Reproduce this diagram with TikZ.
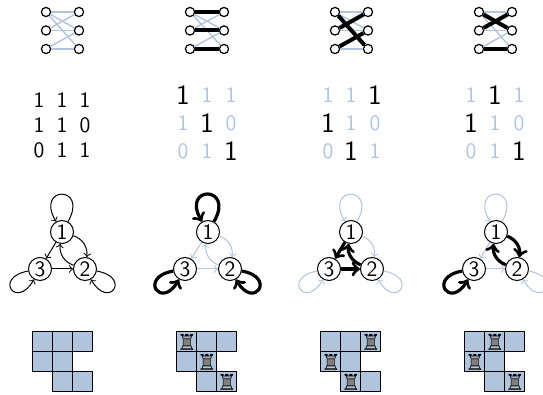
\documentclass[tikz,border=0pt]{standalone}
\usepackage{fontspec}
\usepackage{tikz}
\newfontfamily\chessfont{DejaVu Sans}
\definecolor{pale}{HTML}{B0C4DE}
\newcommand{\rook}{{\chessfont\fontsize{11}{11}\selectfont\rlap{\color{gray}♜}♖}}
\tikzset{
  vtx/.style={draw,circle,fill=white,inner sep=0pt,minimum size=4.6pt,line width=0.6pt},
  pairoff/.style={pale,line width=0.7pt},
  pairon/.style={black,line width=2pt},
  digit/.style={font=\sffamily\fontsize{11}{11}\selectfont},
  digitoff/.style={font=\sffamily\fontsize{11}{11}\selectfont,pale},
  digiton/.style={font=\sffamily\fontsize{14}{14}\selectfont},
  gnode/.style={draw,circle,inner sep=0pt,minimum size=11.5pt,line width=0.5pt,font=\sffamily\fontsize{11}{11}\selectfont},
  arcoff/.style={->,pale,line width=0.5pt},
  arcthin/.style={->,black,line width=0.5pt},
  arcon/.style={->,black,line width=1.6pt},
  cell/.style={draw,fill=pale,minimum size=10pt,inner sep=0pt,line width=0.5pt},
  rookcell/.style={cell,label={[inner sep=0pt]center:\rook}}
}
\begin{document}
\begin{tikzpicture}[x=0.5pt,y=-0.5pt]
\useasboundingbox (0,0) rectangle (543,395);
% bipartite graphs
\node [vtx] (la1) at(46,12){};
\node [vtx] (la2) at(46,30.5){};
\node [vtx] (la3) at(46,49){};
\node [vtx] (ra1) at(79,12){};
\node [vtx] (ra2) at(79,30.5){};
\node [vtx] (ra3) at(79,49){};
\draw[pairoff](la1) -- (ra1);
\draw[pairoff](la1) -- (ra2);
\draw[pairoff](la1) -- (ra3);
\draw[pairoff](la2) -- (ra1);
\draw[pairoff](la2) -- (ra2);
\draw[pairoff](la3) -- (ra2);
\draw[pairoff](la3) -- (ra3);

\node [vtx] (lb1) at(190,12){};
\node [vtx] (lb2) at(190,30.5){};
\node [vtx] (lb3) at(190,49){};
\node [vtx] (rb1) at(224,12){};
\node [vtx] (rb2) at(224,30.5){};
\node [vtx] (rb3) at(224,49){};
\draw[pairoff](lb1) -- (rb2);
\draw[pairoff](lb1) -- (rb3);
\draw[pairoff](lb2) -- (rb1);
\draw[pairoff](lb3) -- (rb2);
\draw[pairon](lb1) -- (rb1);
\draw[pairon](lb2) -- (rb2);
\draw[pairon](lb3) -- (rb3);

\node [vtx] (lc1) at(335,12){};
\node [vtx] (lc2) at(335,30.5){};
\node [vtx] (lc3) at(335,49){};
\node [vtx] (rc1) at(368,12){};
\node [vtx] (rc2) at(368,30.5){};
\node [vtx] (rc3) at(368,49){};
\draw[pairoff](lc1) -- (rc1);
\draw[pairoff](lc1) -- (rc2);
\draw[pairoff](lc2) -- (rc2);
\draw[pairoff](lc3) -- (rc3);
\draw[pairon](lc1) -- (rc3);
\draw[pairon](lc2) -- (rc1);
\draw[pairon](lc3) -- (rc2);

\node [vtx] (ld1) at(479,12){};
\node [vtx] (ld2) at(479,30.5){};
\node [vtx] (ld3) at(479,49){};
\node [vtx] (rd1) at(512,12){};
\node [vtx] (rd2) at(512,30.5){};
\node [vtx] (rd3) at(512,49){};
\draw[pairoff](ld1) -- (rd1);
\draw[pairoff](ld1) -- (rd3);
\draw[pairoff](ld2) -- (rd2);
\draw[pairoff](ld3) -- (rd2);
\draw[pairon](ld1) -- (rd2);
\draw[pairon](ld2) -- (rd1);
\draw[pairon](ld3) -- (rd3);

% matrices
\node [digit] (ma11) at(39,100){1};
\node [digit] (ma12) at(62,100){1};
\node [digit] (ma13) at(85,100){1};
\node [digit] (ma21) at(39,125){1};
\node [digit] (ma22) at(62,125){1};
\node [digit] (ma23) at(85,125){0};
\node [digit] (ma31) at(39,150){0};
\node [digit] (ma32) at(62,150){1};
\node [digit] (ma33) at(85,150){1};

\node [digiton] (mb11) at(183,95){1};
\node [digitoff] (mb12) at(207,95){1};
\node [digitoff] (mb13) at(231,95){1};
\node [digitoff] (mb21) at(183,123){1};
\node [digiton] (mb22) at(207,123){1};
\node [digitoff] (mb23) at(231,123){0};
\node [digitoff] (mb31) at(183,151){0};
\node [digitoff] (mb32) at(207,151){1};
\node [digiton] (mb33) at(231,151){1};

\node [digitoff] (mc11) at(328,95){1};
\node [digitoff] (mc12) at(351,95){1};
\node [digiton] (mc13) at(375,95){1};
\node [digiton] (mc21) at(328,123){1};
\node [digitoff] (mc22) at(351,123){1};
\node [digitoff] (mc23) at(375,123){0};
\node [digitoff] (mc31) at(328,151){0};
\node [digiton] (mc32) at(351,151){1};
\node [digitoff] (mc33) at(375,151){1};

\node [digitoff] (md11) at(471,95){1};
\node [digiton] (md12) at(495,95){1};
\node [digitoff] (md13) at(519,95){1};
\node [digiton] (md21) at(471,123){1};
\node [digitoff] (md22) at(495,123){1};
\node [digitoff] (md23) at(519,123){0};
\node [digitoff] (md31) at(471,151){0};
\node [digitoff] (md32) at(495,151){1};
\node [digiton] (md33) at(519,151){1};

% digraphs
\node [gnode] (na1) at(62,232){1};
\node [gnode] (na2) at(85,269){2};
\node [gnode] (na3) at(40,269){3};
\draw[arcthin](na1) to[out=60,in=120,looseness=9] (na1);
\draw[arcthin](na2) to[out=-10,in=-60,looseness=9] (na2);
\draw[arcthin](na3) to[out=190,in=240,looseness=9] (na3);
\draw[arcthin](na1) to[bend left=40] (na2);
\draw[arcthin](na2) to[bend left=40] (na1);
\draw[arcthin](na1) -- (na3);
\draw[arcthin](na3) -- (na2);

\node [gnode] (nb1) at(208,232){1};
\node [gnode] (nb2) at(230,269){2};
\node [gnode] (nb3) at(185,269){3};
\draw[arcoff](nb1) to[bend left=40] (nb2);
\draw[arcoff](nb2) to[bend left=40] (nb1);
\draw[arcoff](nb1) -- (nb3);
\draw[arcoff](nb3) -- (nb2);
\draw[arcon](nb1) to[out=60,in=120,looseness=9] (nb1);
\draw[arcon](nb2) to[out=-10,in=-60,looseness=9] (nb2);
\draw[arcon](nb3) to[out=190,in=240,looseness=9] (nb3);

\node [gnode] (nc1) at(351,232){1};
\node [gnode] (nc2) at(372,269){2};
\node [gnode] (nc3) at(329,269){3};
\draw[arcoff](nc1) to[out=60,in=120,looseness=9] (nc1);
\draw[arcoff](nc2) to[out=-10,in=-60,looseness=9] (nc2);
\draw[arcoff](nc3) to[out=190,in=240,looseness=9] (nc3);
\draw[arcoff](nc1) to[bend left=40] (nc2);
\draw[arcon](nc2) to[bend left=40] (nc1);
\draw[arcon](nc1) -- (nc3);
\draw[arcon](nc3) -- (nc2);

\node [gnode] (nd1) at(496,232){1};
\node [gnode] (nd2) at(517,269){2};
\node [gnode] (nd3) at(474,269){3};
\draw[arcoff](nd1) to[out=60,in=120,looseness=9] (nd1);
\draw[arcoff](nd2) to[out=-10,in=-60,looseness=9] (nd2);
\draw[arcoff](nd1) -- (nd3);
\draw[arcoff](nd3) -- (nd2);
\draw[arcon](nd3) to[out=190,in=240,looseness=9] (nd3);
\draw[arcon](nd1) to[bend left=40] (nd2);
\draw[arcon](nd2) to[bend left=40] (nd1);

% rook boards
\node [cell] (ba11) at(43,342){};
\node [cell] (ba12) at(63,342){};
\node [cell] (ba13) at(83,342){};
\node [cell] (ba21) at(43,362){};
\node [cell] (ba22) at(63,362){};
\node [cell] (ba32) at(63,382){};
\node [cell] (ba33) at(83,382){};

\node [rookcell] (bb11) at(187,342){};
\node [cell] (bb12) at(207,342){};
\node [cell] (bb13) at(227,342){};
\node [cell] (bb21) at(187,362){};
\node [rookcell] (bb22) at(207,362){};
\node [cell] (bb32) at(207,382){};
\node [rookcell] (bb33) at(227,382){};

\node [cell] (bc11) at(331,342){};
\node [cell] (bc12) at(351,342){};
\node [rookcell] (bc13) at(371,342){};
\node [rookcell] (bc21) at(331,362){};
\node [cell] (bc22) at(351,362){};
\node [rookcell] (bc32) at(351,382){};
\node [cell] (bc33) at(371,382){};

\node [cell] (bd11) at(475,342){};
\node [rookcell] (bd12) at(495,342){};
\node [cell] (bd13) at(515,342){};
\node [rookcell] (bd21) at(475,362){};
\node [cell] (bd22) at(495,362){};
\node [cell] (bd32) at(495,382){};
\node [rookcell] (bd33) at(515,382){};

\end{tikzpicture}
\end{document}
